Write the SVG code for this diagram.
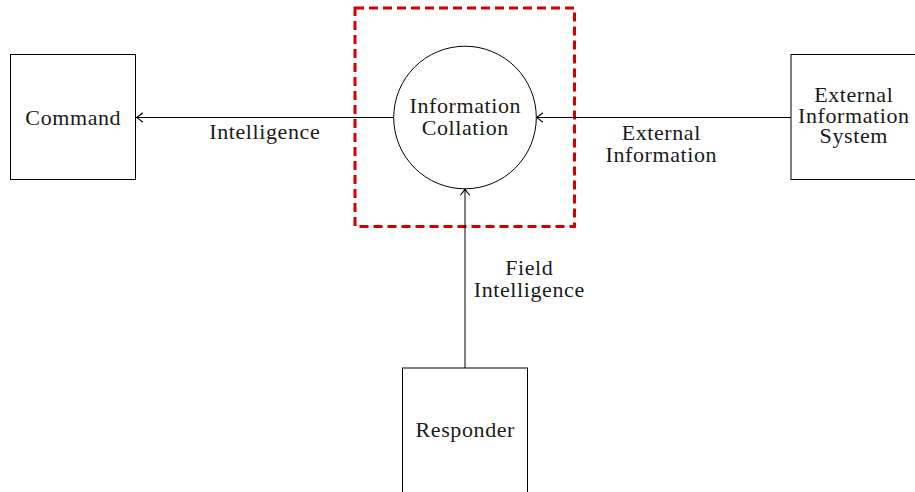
<svg xmlns="http://www.w3.org/2000/svg" width="915" height="492" viewBox="0 0 915 492">
<defs>
<style>
.box{fill:#fff;stroke:#000;stroke-width:1}
.t{font-family:"Liberation Serif","Times New Roman",serif;font-size:22px;letter-spacing:0.6px;fill:#1a1a1a;text-anchor:middle}
.edge{fill:none;stroke:#000;stroke-width:1}
.hl{fill:none;stroke:#d40000;stroke-width:3;stroke-dasharray:9,5}
</style>
<marker id="ah" viewBox="-8 -6 10 12" refX="0" refY="0" markerWidth="10" markerHeight="12" markerUnits="userSpaceOnUse" orient="auto">
<path d="M-6,-4.5 Q-2,-1 0,0 Q-2,1 -6,4.5" fill="none" stroke="#000" stroke-width="1.1" stroke-linecap="round"/>
</marker>
</defs>
<rect id="highlight" class="hl" x="355" y="8" width="219.5" height="218.5"/>
<g id="connectors">
<line class="edge" x1="393.5" y1="117.5" x2="136.5" y2="117.5" marker-end="url(#ah)"/>
<line class="edge" x1="791" y1="117.5" x2="536.5" y2="117.5" marker-end="url(#ah)"/>
<line class="edge" x1="465" y1="368" x2="465" y2="189" marker-end="url(#ah)"/>
<text class="t" x="264.8" y="139.3">Intelligence</text>
<text class="t" x="661.3" y="140">External</text>
<text class="t" x="661.3" y="161.7">Information</text>
<text class="t" x="529.3" y="275">Field</text>
<text class="t" x="529.3" y="296.7">Intelligence</text>
</g>
<g id="command">
<rect class="box" x="10.5" y="54.5" width="125" height="125"/>
<text class="t" x="73.3" y="125">Command</text>
</g>
<g id="collation">
<circle class="box" cx="465" cy="117.5" r="71.3"/>
<text class="t" x="465.3" y="113.3">Information</text>
<text class="t" x="465.3" y="135">Collation</text>
</g>
<g id="external">
<rect class="box" x="791" y="54.5" width="126" height="125"/>
<text class="t" x="853.8" y="101.7">External</text>
<text class="t" x="853.8" y="122.7">Information</text>
<text class="t" x="853.8" y="143.3">System</text>
</g>
<g id="responder">
<rect class="box" x="402.5" y="368" width="125" height="126"/>
<text class="t" x="465.3" y="437">Responder</text>
</g>
</svg>
